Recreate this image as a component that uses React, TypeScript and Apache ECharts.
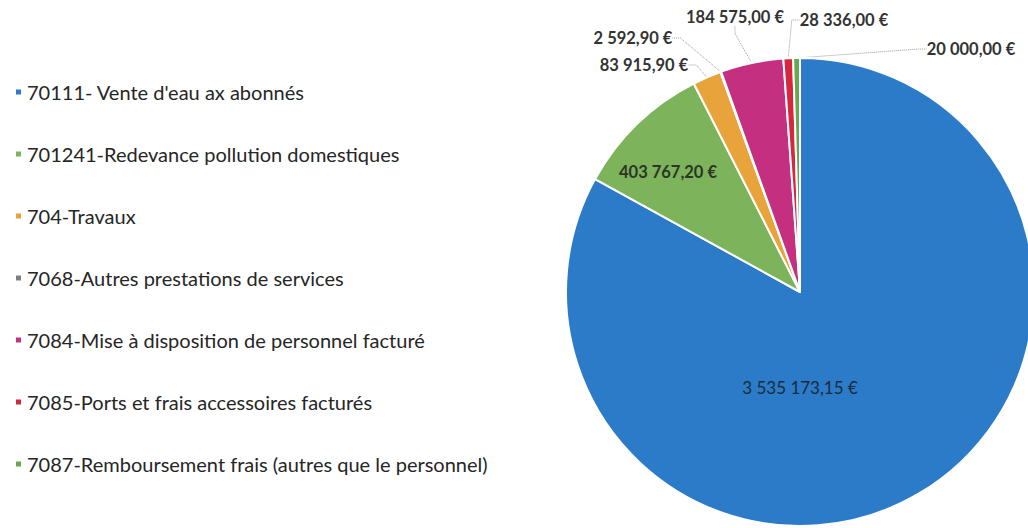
import React, { useEffect, useRef } from "react";
import * as echarts from "echarts";

const categories = [
  "70111- Vente d'eau ax abonnés",
  "701241-Redevance pollution domestiques",
  "704-Travaux",
  "7068-Autres prestations de services",
  "7084-Mise à disposition de personnel facturé",
  "7085-Ports et frais accessoires facturés",
  "7087-Remboursement frais (autres que le personnel)",
];
const values = [3535173.15, 403767.2, 83915.9, 2592.9, 184575.0, 28336.0, 20000.0];
const colors = ["#2b7bc8", "#7db35a", "#e9a33b", "#7f7f7f", "#c4307f", "#d9263f", "#6aa84f"];

const labelPos: [number, number][] = [
  [800, 387],
  [668, 172],
  [644, 65],
  [633, 38],
  [735, 17],
  [844, 20],
  [971, 49],
];

function fmt(v: number): string {
  const parts = v.toFixed(2).split(".");
  const int = parts[0].replace(/\B(?=(\d{3})+(?!\d))/g, " ");
  return int + "," + parts[1] + " €";
}

export default function App() {
  const ref = useRef<HTMLDivElement>(null);
  useEffect(() => {
    if (!ref.current) return;
    const chart = echarts.init(ref.current, null, { renderer: "svg" });
    chart.setOption({
      animation: false,
      backgroundColor: "#ffffff",
      legend: {
        orient: "vertical",
        left: 9,
        top: 75,
        itemWidth: 7,
        itemHeight: 7,
        icon: "rect",
        itemGap: 38,
        textStyle: {
          fontFamily: "Lato",
          fontSize: 20,
          lineHeight: 24,
          color: "#262626",
        },
        data: categories,
      },
      series: [
        {
          type: "pie",
          center: [800, 292],
          radius: 234,
          startAngle: 90,
          clockwise: true,
          avoidLabelOverlap: false,
          itemStyle: { borderColor: "#ffffff", borderWidth: 2 },
          label: {
            show: true,
            position: "outside",
            formatter: (p: any) => fmt(p.value),
            fontFamily: "Lato",
            fontWeight: "bold",
            fontSize: 16.5,
            color: "#333333",
          },
          labelLine: {
            show: true,
            length: 8,
            length2: 8,
            lineStyle: { color: "#999999", width: 1, type: "dotted" },
          },
          labelLayout: (params: any) => {
            const p = labelPos[params.dataIndex];
            return { x: p[0], y: p[1], align: "center", verticalAlign: "middle" };
          },
          data: categories.map((name, i) => ({
            name,
            value: values[i],
            itemStyle: { color: colors[i] },
            label:
              i === 0
                ? { position: "inside", fontWeight: "normal", color: "#1a2a3c", fontSize: 17 }
                : i === 1
                ? { position: "inside", color: "#2a3628" }
                : undefined,
            labelLine: i < 2 ? { show: false } : undefined,
          })),
        },
      ],
    });
    return () => chart.dispose();
  }, []);
  return (
    <div
      ref={ref}
      style={{ position: "absolute", left: 0, top: 0, width: 1028, height: 528 }}
    />
  );
}
